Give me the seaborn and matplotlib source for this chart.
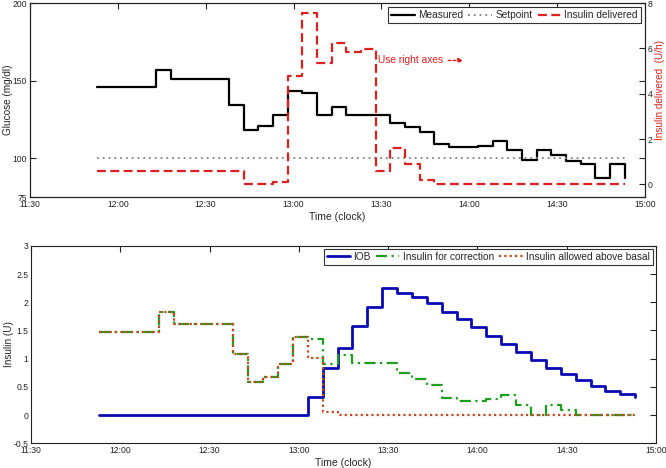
import matplotlib
matplotlib.use('Agg')
import matplotlib.pyplot as plt
import pandas as pd
import numpy as np
import seaborn as sns

# sample times (5 min CGM samples)
times = ['11:53', '11:58', '12:03', '12:08', '12:13', '12:18', '12:23', '12:28',
         '12:33', '12:38', '12:43', '12:48', '12:53', '12:58', '13:03', '13:08',
         '13:13', '13:18', '13:23', '13:28', '13:33', '13:38', '13:43', '13:48',
         '13:53', '13:58', '14:03', '14:08', '14:13', '14:18', '14:23', '14:28',
         '14:33', '14:38', '14:43', '14:48', '14:53']

measured = [146, 146, 146, 146, 157, 151, 151, 151, 151, 134, 118, 121, 128, 143, 142, 128,
            133, 128, 128, 128, 123, 120, 117, 109, 107, 107, 108, 111, 105, 99, 105, 102,
            98, 96, 87, 96, 87]
setpoint = [100] * len(times)
insulin_delivered = [0.6, 0.6, 0.6, 0.6, 0.6, 0.6, 0.6, 0.6, 0.6, 0.6, 0.0, 0.0, 0.1, 4.8,
                     7.55, 5.35, 6.25, 5.85, 5.95, 0.6, 1.6, 0.9, 0.2, 0, 0, 0, 0, 0, 0, 0,
                     0, 0, 0, 0, 0, 0, 0]

iob = [0, 0, 0, 0, 0, 0, 0, 0, 0, 0, 0, 0, 0, 0, 0.32, 0.84, 1.18, 1.58, 1.92, 2.26, 2.17,
       2.10, 1.98, 1.83, 1.70, 1.555, 1.41, 1.26, 1.12, 0.975, 0.84, 0.73, 0.62, 0.51,
       0.43, 0.37, 0.32]
correction = [1.47, 1.47, 1.47, 1.47, 1.82, 1.62, 1.62, 1.62, 1.62, 1.09, 0.58, 0.68, 0.90,
              1.38, 1.34, 0.90, 1.06, 0.93, 0.93, 0.93, 0.75, 0.63, 0.54, 0.31, 0.25, 0.25,
              0.28, 0.35, 0.18, 0.0, 0.18, 0.09, 0, 0, 0, 0, 0]
allowed = [1.47, 1.47, 1.47, 1.47, 1.82, 1.62, 1.62, 1.62, 1.62, 1.09, 0.58, 0.68, 0.90,
           1.38, 1.02, 0.06, 0, 0, 0, 0, 0, 0, 0, 0, 0, 0, 0, 0, 0, 0, 0, 0, 0, 0, 0, 0, 0]

tick_labels = ['11:30', '12:00', '12:30', '13:00', '13:30', '14:00', '14:30', '15:00']


def to_min(s):
    h, m = s.split(':')
    return int(h) * 60 + int(m)


df = pd.DataFrame({'t': [to_min(s) for s in times], 'measured': measured,
                   'setpoint': setpoint, 'delivered': insulin_delivered,
                   'iob': iob, 'correction': correction, 'allowed': allowed})
xt = [to_min(s) for s in tick_labels]

sns.set_style('white')
plt.rcParams['font.family'] = ['Liberation Sans', 'DejaVu Sans']
plt.rcParams['axes.edgecolor'] = '#222222'
plt.rcParams['axes.linewidth'] = 0.8

fig = plt.figure(figsize=(6.66, 4.68), dpi=100)
ax1 = fig.add_axes([0.045, 0.579, 0.9235, 0.4145])
ax2 = ax1.twinx()
ax3 = fig.add_axes([0.0465, 0.053, 0.9385, 0.4216])

red = '#dd1f1f'
common = dict(x='t', data=df, sort=False, errorbar=None, legend=False, drawstyle='steps-post')
leg_kw = dict(ncol=3, loc='upper right', fontsize=7.3, fancybox=False, edgecolor='#333333',
              framealpha=1, handlelength=2.3, columnspacing=0.5, handletextpad=0.35,
              borderpad=0.3)

# top panel
sns.lineplot(y='measured', ax=ax1, color='black', lw=1.6, label='Measured', **common)
sns.lineplot(y='setpoint', ax=ax1, color='#808080', lw=1.3, linestyle=(0, (1, 2.2)),
             label='Setpoint', **common)
sns.lineplot(y='delivered', ax=ax2, color=red, lw=1.6, linestyle=(0, (4, 2)),
             label='Insulin delivered', **common)

ax1.set_xlim(xt[0], xt[-1])
ax1.set_ylim(75, 200)
ax1.set_yticks([75, 100, 150, 200])
ax2.set_ylim(-0.56, 8)
ax2.set_yticks([0, 2, 4, 6, 8])
ax1.set_xticks(xt)
ax1.set_xticklabels(tick_labels)
ax1.set_xlabel('Time (clock)', fontsize=7.5, labelpad=2)
ax1.set_ylabel('Glucose (mg/dl)', fontsize=7.2)
ax1.yaxis.set_label_coords(-0.027, 0.5)
ax2.set_ylabel('Insulin delivered  (U/h)', fontsize=7.2, color=red)
ax2.yaxis.set_label_coords(1.017, 0.55)
ax2.set_xlabel('')
ax1.tick_params(direction='in', top=True, right=True, length=4, labelsize=6.2, pad=2,
                colors='#222222')
ax2.tick_params(direction='in', length=4, labelsize=6.2, pad=2, colors='#222222')

h1, l1 = ax1.get_legend_handles_labels()
h2, l2 = ax2.get_legend_handles_labels()
leg = ax2.legend(h1 + h2, l1 + l2, borderaxespad=0.4, **leg_kw)
leg.get_frame().set_linewidth(0.8)

ax1.annotate('Use right axes', xy=(to_min('13:58'), 163), xytext=(to_min('13:28') + 1, 163),
             color=red, fontsize=7.3, ha='left', va='center',
             arrowprops=dict(arrowstyle='-|>', color=red, lw=1.0, linestyle=(0, (2, 1.5)),
                             shrinkA=1, shrinkB=0, mutation_scale=7))

# bottom panel
sns.lineplot(y='iob', ax=ax3, color='#0a0ab4', lw=2.0, label='IOB', **common)
sns.lineplot(y='correction', ax=ax3, color='#1e9e1e', lw=1.6, linestyle=(0, (5, 2, 1, 2)),
             label='Insulin for correction', **common)
sns.lineplot(y='allowed', ax=ax3, color='#c8461e', lw=1.6, linestyle=(0, (1, 1.4)),
             label='Insulin allowed above basal', **common)

ax3.set_xlim(xt[0], xt[-1])
ax3.set_ylim(-0.5, 3)
ax3.set_yticks([-0.5, 0, 0.5, 1, 1.5, 2, 2.5, 3])
ax3.set_yticklabels(['-0.5', '0', '0.5', '1', '1.5', '2', '2.5', '3'])
ax3.set_xticks(xt)
ax3.set_xticklabels(tick_labels)
ax3.set_xlabel('Time (clock)', fontsize=7.5, labelpad=2)
ax3.set_ylabel('Insulin (U)', fontsize=7.2)
ax3.yaxis.set_label_coords(-0.027, 0.5)
ax3.tick_params(direction='in', top=True, right=True, length=4, labelsize=6.2, pad=2,
                colors='#222222')
leg3 = ax3.legend(borderaxespad=0.3, **leg_kw)
leg3.get_frame().set_linewidth(0.8)

fig.savefig('out.png', dpi=100)
